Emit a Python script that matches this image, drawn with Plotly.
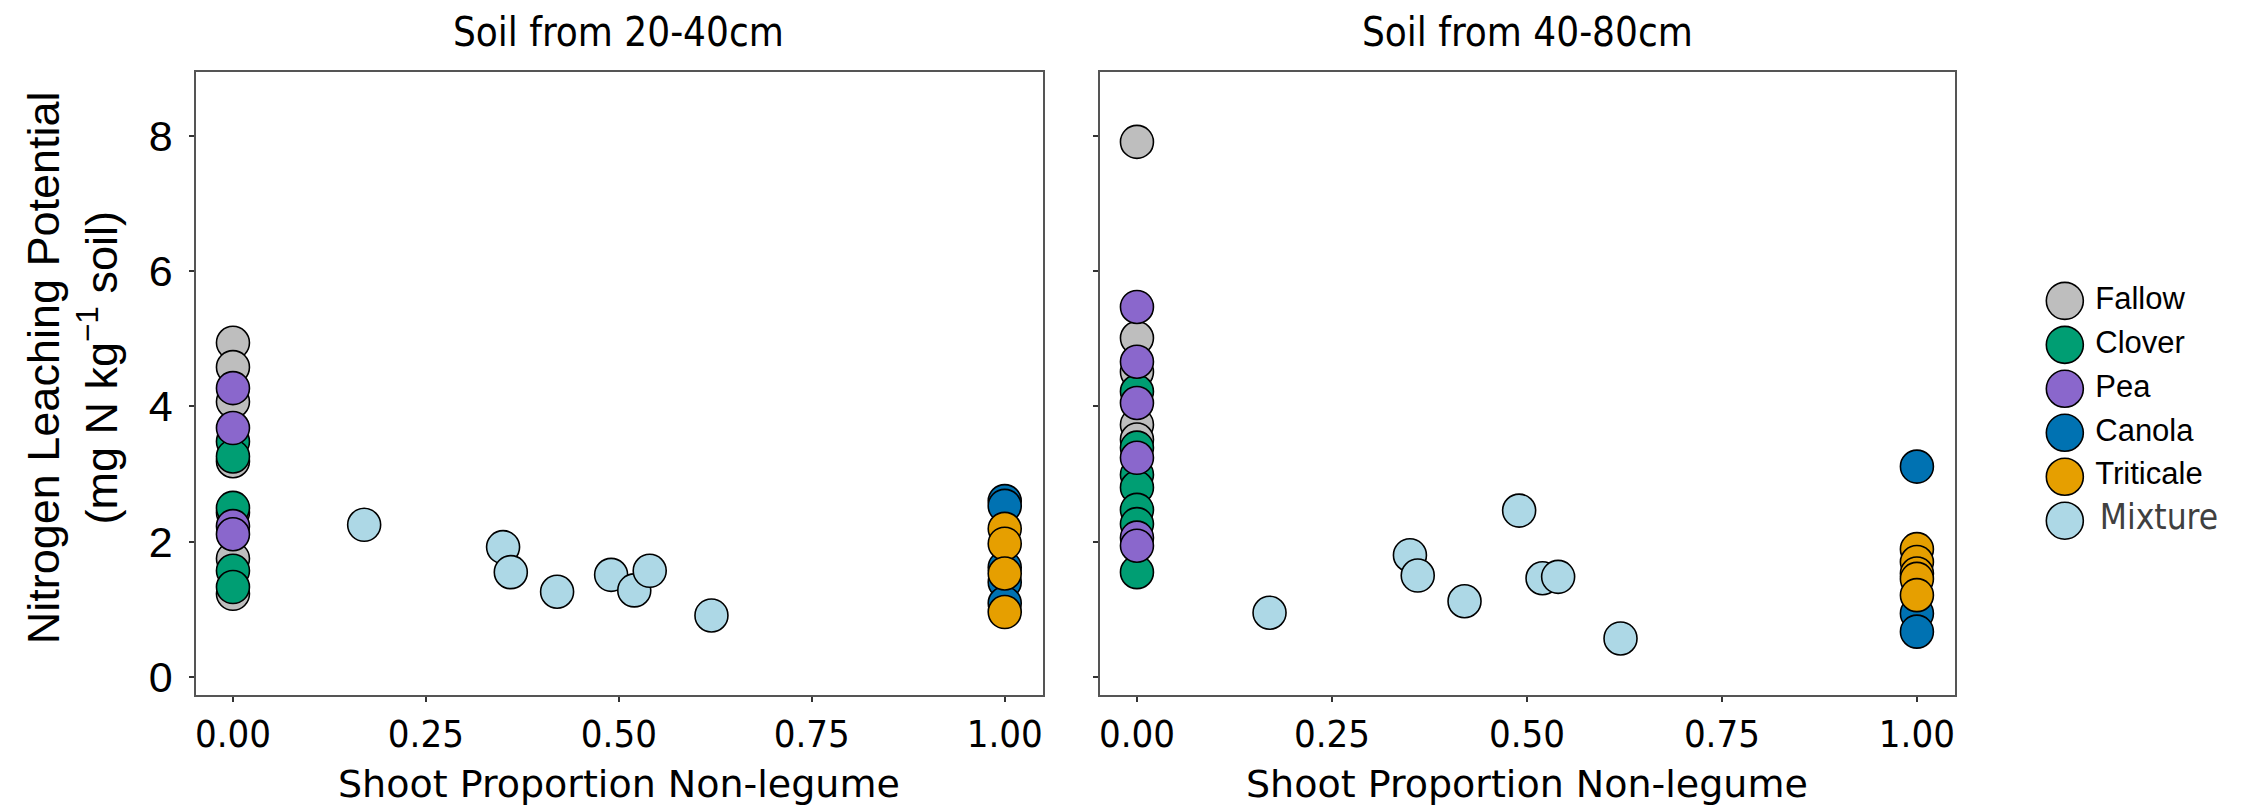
import plotly.graph_objects as go

# ---------------- data ----------------
categories = ["Fallow", "Clover", "Pea", "Canola", "Triticale", "Mixture"]
colors = ["#BEBEBE", "#009E73", "#8A67CC", "#0072B2", "#E69F00", "#ADD8E6"]

# Soil from 20-40cm
p1_fallow_y = [4.94, 4.58, 4.07, 3.19, 2.43, 1.75, 1.23]
p1_clover_y = [3.48, 3.26, 2.50, 1.57, 1.33]
p1_pea_y = [4.27, 3.68, 2.23, 2.11]
p1_canola_y = [2.60, 2.53, 1.62, 1.40, 1.09]
p1_triticale_y = [2.19, 1.97, 1.53, 0.96]
p1_mix_x = [0.17, 0.35, 0.36, 0.42, 0.49, 0.52, 0.54, 0.62]
p1_mix_y = [2.25, 1.92, 1.55, 1.26, 1.51, 1.28, 1.57, 0.91]

# Soil from 40-80cm
p2_fallow_y = [7.91, 5.01, 4.51, 3.73, 3.51]
p2_clover_y = [4.22, 3.39, 2.99, 2.80, 2.47, 2.26, 1.55]
p2_pea_y = [5.47, 4.66, 4.05, 3.24, 2.06, 1.94]
p2_canola_y = [3.11, 0.94, 0.67]
p2_triticale_y = [1.89, 1.70, 1.53, 1.45, 1.21]
p2_mix_x = [0.17, 0.35, 0.36, 0.42, 0.49, 0.52, 0.54, 0.62]
p2_mix_y = [0.95, 1.80, 1.50, 1.12, 2.46, 1.46, 1.48, 0.57]

panel_titles = ["Soil from 20-40cm", "Soil from 40-80cm"]
x_title = "Shoot Proportion Non-legume"
y_title = "Nitrogen Leaching Potential<br>(mg N kg<sup>\u22121</sup> soil)"
x_tickvals = [0, 0.25, 0.5, 0.75, 1.0]
x_ticktext = ["0.00", "0.25", "0.50", "0.75", "1.00"]
y_tickvals = [0, 2, 4, 6, 8]

# ---------------- styling ----------------
W, H = 2244, 808
NARROW = "Liberation Sans Narrow, DejaVu Sans Condensed, Arial Narrow, sans-serif"
REG = "Liberation Sans, Arial, sans-serif"
WIDE = "DejaVu Sans, Verdana, sans-serif"
MS = 33

fig = go.Figure()

panels = [
    ("x", "y", [p1_fallow_y, p1_clover_y, p1_pea_y, p1_canola_y, p1_triticale_y], p1_mix_x, p1_mix_y),
    ("x2", "y2", [p2_fallow_y, p2_clover_y, p2_pea_y, p2_canola_y, p2_triticale_y], p2_mix_x, p2_mix_y),
]
xpos = [0, 0, 0, 1, 1]
for xa, ya, groups, mx, my in panels:
    for ci, vals in enumerate(groups):
        fig.add_trace(go.Scatter(
            x=[xpos[ci]] * len(vals), y=vals, mode="markers", xaxis=xa, yaxis=ya,
            marker=dict(size=MS, color=colors[ci], line=dict(color="black", width=1.6)),
            showlegend=False, name=categories[ci]))
    fig.add_trace(go.Scatter(
        x=mx, y=my, mode="markers", xaxis=xa, yaxis=ya,
        marker=dict(size=MS, color=colors[5], line=dict(color="black", width=1.6)),
        showlegend=False, name=categories[5]))

# legend drawn in its own small axes
idx = list(range(len(categories)))
fig.add_trace(go.Scatter(
    x=[0.164] * len(categories), y=idx, mode="markers", xaxis="x3", yaxis="y3",
    marker=dict(size=37, color=colors, line=dict(color="black", width=1.6)),
    showlegend=False, hoverinfo="skip"))
fig.add_trace(go.Scatter(
    x=[0.30] * 5 + [0.32], y=idx, mode="text", xaxis="x3", yaxis="y3",
    text=categories, textposition="middle right",
    textfont=dict(family=[REG] * 5 + [NARROW], size=[31] * 5 + [35],
                  color=["black"] * 5 + ["#404040"]),
    showlegend=False, hoverinfo="skip"))

px = lambda v: v / W
py = lambda v: 1 - v / H

axis_common = dict(showline=True, mirror=True, linecolor="#555555", linewidth=1.5,
                   ticks="outside", ticklen=5, tickwidth=2, tickcolor="#333333",
                   showgrid=False, zeroline=False)

Y_RANGE = [-0.264, 8.95]

fig.update_layout(
    width=W, height=H, margin=dict(l=0, r=0, t=0, b=0),
    paper_bgcolor="white", plot_bgcolor="white",
    xaxis=dict(domain=[px(187), px(1034)], range=[-0.048, 1.049], anchor="y",
               tickvals=x_tickvals, ticktext=x_ticktext,
               tickfont=dict(family=NARROW, size=38, color="black"),
               **axis_common),
    yaxis=dict(domain=[py(692), py(64)], range=Y_RANGE, anchor="x",
               tickvals=y_tickvals, ticklabelstandoff=8,
               tickfont=dict(family=REG, size=43, color="black"),
               **axis_common),
    xaxis2=dict(domain=[px(1091), px(1947)], range=[-0.048, 1.049], anchor="y2",
                tickvals=x_tickvals, ticktext=x_ticktext,
                tickfont=dict(family=NARROW, size=38, color="black"),
                **axis_common),
    yaxis2=dict(domain=[py(692), py(64)], range=Y_RANGE, anchor="x2",
                tickvals=y_tickvals, showticklabels=False, **axis_common),
    xaxis3=dict(domain=[px(2020), 1.0], range=[0, 1], visible=False, fixedrange=True),
    yaxis3=dict(domain=[py(538.7), py(272.9)], range=[5.5, -0.5], visible=False,
                anchor="x3", fixedrange=True),
    annotations=[
        dict(text=panel_titles[0], x=px(610), y=py(24), xref="paper", yref="paper",
             showarrow=False, font=dict(family=NARROW, size=40, color="black"),
             xanchor="center", yanchor="middle"),
        dict(text=panel_titles[1], x=px(1519), y=py(24), xref="paper", yref="paper",
             showarrow=False, font=dict(family=NARROW, size=40, color="black"),
             xanchor="center", yanchor="middle"),
        dict(text=x_title, x=px(610), y=py(782), xref="paper", yref="paper",
             showarrow=False, font=dict(family=WIDE, size=38, color="black"),
             xanchor="center", yanchor="middle", borderpad=0),
        dict(text=x_title, x=px(1519), y=py(782), xref="paper", yref="paper",
             showarrow=False, font=dict(family=WIDE, size=38, color="black"),
             xanchor="center", yanchor="middle", borderpad=0),
        dict(text=y_title, x=px(64), y=py(362), xref="paper", yref="paper",
             showarrow=False, textangle=-90, font=dict(family=REG, size=45, color="black"),
             xanchor="center", yanchor="middle"),
    ],
)

fig.write_html("out.html")
